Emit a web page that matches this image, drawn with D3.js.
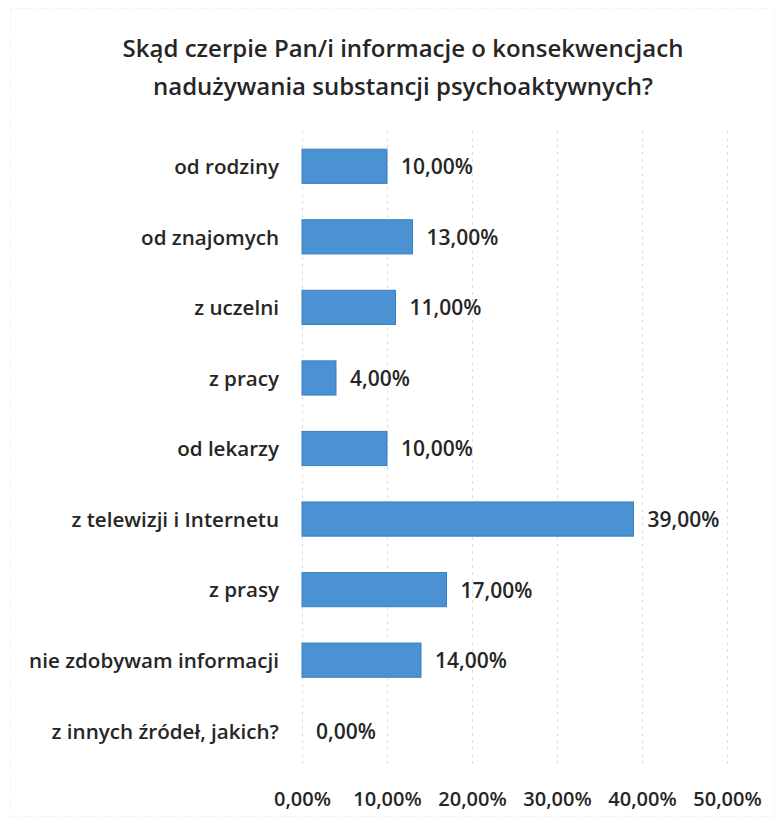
<!DOCTYPE html>
<html>
<head>
<meta charset="utf-8">
<script src="https://cdn.jsdelivr.net/npm/d3@7"></script>
<style>
  html, body { margin: 0; padding: 0; background: #fff; }
  svg { display: block; font-family: "Open Sans", Lato, sans-serif; }
</style>
</head>
<body>
<svg id="chart" width="784" height="822"></svg>
<script>
const categories = [
  "od rodziny",
  "od znajomych",
  "z uczelni",
  "z pracy",
  "od lekarzy",
  "z telewizji i Internetu",
  "z prasy",
  "nie zdobywam informacji",
  "z innych źródeł, jakich?"
];
const values = [10, 13, 11, 4, 10, 39, 17, 14, 0];
const tickValues = [0, 10, 20, 30, 40, 50];
const titleLines = [
  "Skąd czerpie Pan/i informacje o konsekwencjach",
  "nadużywania substancji psychoaktywnych?"
];

const fmt = v => v.toFixed(2).replace(".", ",") + "%";
const font = "'Open Sans', Lato, sans-serif";
const ink = "#262626";

const svg = d3.select("#chart");
const plotLeft = 302, plotRight = 727, plotTop = 131, plotBottom = 766;

const x = d3.scaleLinear().domain([0, 50]).range([plotLeft, plotRight]);
const y = d3.scaleBand().domain(categories).range([plotTop, plotBottom]).paddingInner(0.515).paddingOuter(0.2575);

// faint frame
svg.append("rect").attr("x", 10.5).attr("y", 8.5).attr("width", 764).attr("height", 808)
  .attr("fill", "none").attr("stroke", "#ececec").attr("stroke-dasharray", "2,3");

// title
svg.append("g").selectAll("text").data(titleLines).join("text")
  .attr("x", 403).attr("y", (d, i) => 57 + i * 38)
  .attr("text-anchor", "middle")
  .attr("font-size", 24).attr("font-weight", 600).attr("fill", ink)
  .text(d => d);

// vertical grid lines
svg.append("g").selectAll("line").data(tickValues).join("line")
  .attr("x1", d => x(d) + 0.5).attr("x2", d => x(d) + 0.5)
  .attr("y1", plotTop).attr("y2", plotBottom)
  .attr("stroke", "#dcdcdc").attr("stroke-width", 1).attr("stroke-dasharray", "3,4");

// x axis tick labels
const xAxis = d3.axisBottom(x).tickValues(tickValues).tickFormat(fmt).tickSize(0).tickPadding(0);
const gx = svg.append("g").attr("transform", `translate(0, ${plotBottom + 26})`).call(xAxis);
gx.select(".domain").remove();
gx.selectAll("text").attr("font-size", 20).attr("font-family", font)
  .attr("font-weight", 600).attr("fill", ink);

// category labels
const yAxis = d3.axisLeft(y).tickSize(0).tickPadding(0);
const gy = svg.append("g").attr("transform", `translate(${plotLeft - 23}, 0)`).call(yAxis);
gy.select(".domain").remove();
gy.selectAll("text").attr("font-size", 20.6).attr("font-family", font)
  .attr("font-weight", 600).attr("fill", ink).attr("dy", "0.38em");

// bars
svg.append("g").selectAll("rect").data(values).join("rect")
  .attr("x", x(0))
  .attr("y", (d, i) => y(categories[i]))
  .attr("width", d => x(d) - x(0))
  .attr("height", y.bandwidth())
  .attr("fill", "#4a92d2")
  .attr("stroke", d => d > 0 ? "#3c7fbf" : "none")
  .attr("stroke-width", 1);

// value labels
svg.append("g").selectAll("text").data(values).join("text")
  .attr("x", d => x(d) + 14)
  .attr("y", (d, i) => y(categories[i]) + y.bandwidth() / 2)
  .attr("dy", "0.38em")
  .attr("font-size", 21).attr("font-weight", 600).attr("fill", ink)
  .text(fmt);
</script>
</body>
</html>
